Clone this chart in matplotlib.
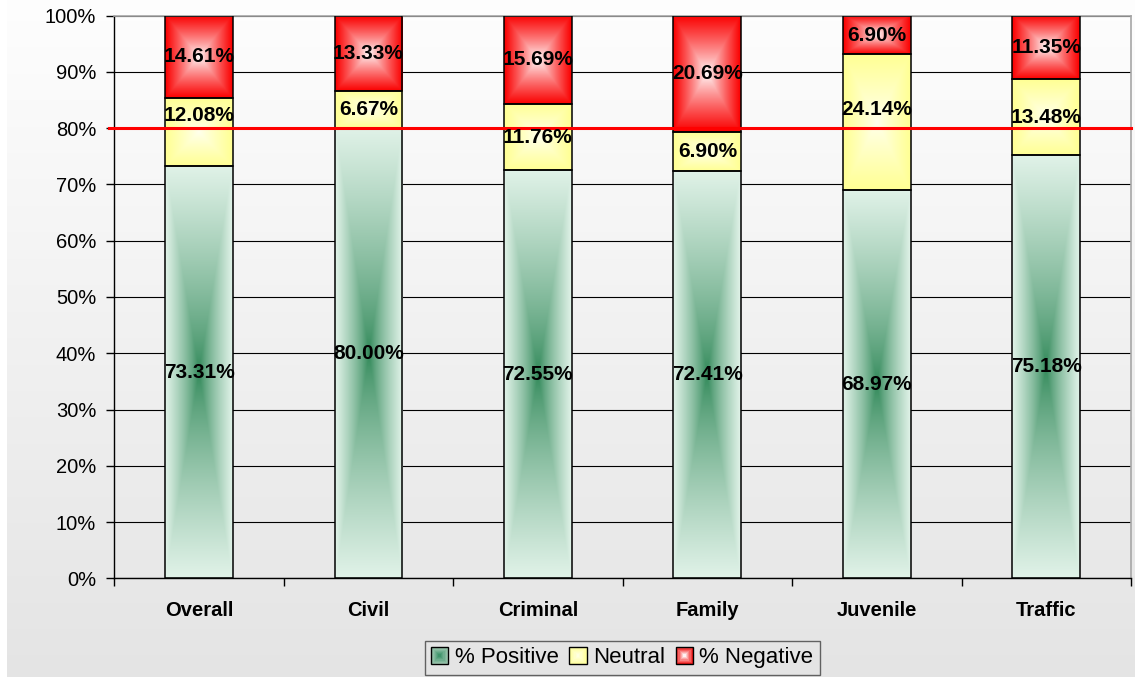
import numpy as np
import matplotlib
matplotlib.use("Agg")
import matplotlib.pyplot as plt
from matplotlib.patches import Rectangle, Patch
from matplotlib.legend_handler import HandlerBase
from matplotlib.ticker import FixedLocator, NullFormatter

# ---- data -------------------------------------------------------------
categories = ["Overall", "Civil", "Criminal", "Family", "Juvenile", "Traffic"]
positive = [73.31, 80.00, 72.55, 72.41, 68.97, 75.18]
neutral = [12.08, 6.67, 11.76, 6.90, 24.14, 13.48]
negative = [14.61, 13.33, 15.69, 20.69, 6.90, 11.35]
target = 80
y_ticks = [0, 10, 20, 30, 40, 50, 60, 70, 80, 90, 100]
series_names = ["% Positive", "Neutral", "% Negative"]

# ---- styling ----------------------------------------------------------
plt.rcParams["font.family"] = ["Liberation Sans", "DejaVu Sans"]

# (center colour, edge colour, exponent) of a rectangular "from centre" fill
fills = {
    "% Positive": ((0.18, 0.53, 0.34), (0.88, 0.95, 0.91), 0.75),
    "Neutral": ((1.00, 1.00, 0.93), (1.00, 1.00, 0.58), 0.9),
    "% Negative": ((1.00, 1.00, 1.00), (0.98, 0.0, 0.0), 0.85),
}
# labels lifted clear of the target line (pixels)
label_nudge = {("Neutral", 0): 16, ("Neutral", 4): 13}

bar_width = 0.4
label_size = 15
tick_size = 14.5


def rect_gradient(center, edge, power, nx=60, ny=240):
    xs = np.linspace(-1, 1, nx)
    ys = np.linspace(-1, 1, ny)
    X, Y = np.meshgrid(xs, ys)
    t = np.maximum(np.abs(X), np.abs(Y)) ** power
    c = np.array(center)
    e = np.array(edge)
    return c * (1 - t)[..., None] + e * t[..., None]


fig = plt.figure(figsize=(11.35, 6.77), dpi=100)
fig.patch.set_facecolor("white")

# chart-wide vertical background shading
bg = fig.add_axes([7 / 1135, 0, 1 - 7 / 1135, 1], zorder=-5)
shade = np.linspace(0.895, 0.995, 256)[:, None]
bg.imshow(np.dstack([shade, shade, shade]), aspect="auto", origin="lower",
          extent=(0, 1, 0, 1))
bg.set_axis_off()

ax = fig.add_axes([114.3 / 1135, 1 - 578.3 / 677,
                   (1131 - 114.3) / 1135, (578.3 - 15.7) / 677])
ax.set_facecolor("none")

x = np.arange(len(categories))
stacks = [positive, neutral, negative]
bottom = np.zeros(len(categories))
for name, vals in zip(series_names, stacks):
    center, edge, power = fills[name]
    img = rect_gradient(center, edge, power)
    for i, v in enumerate(vals):
        x0 = x[i] - bar_width / 2
        x1 = x[i] + bar_width / 2
        y0 = bottom[i]
        y1 = bottom[i] + v
        ax.imshow(img, extent=(x0, x1, y0, y1), aspect="auto", origin="lower",
                  interpolation="bilinear", zorder=2)
        ax.add_patch(Rectangle((x0, y0), bar_width, v, facecolor="none",
                               edgecolor="black", linewidth=1.1, zorder=3))
        nudge = label_nudge.get((name, i), 0)
        ax.annotate(f"{v:.2f}%", xy=(x[i], y0 + v / 2), xytext=(0, nudge),
                    textcoords="offset pixels", ha="center", va="center",
                    fontsize=label_size, fontweight="bold", color="black",
                    zorder=6)
    bottom += np.array(vals)

# target line
ax.plot([-0.5 - 0.03, len(categories) - 0.5], [target, target], color="#ff0000",
        linewidth=2.2, zorder=5, clip_on=False)

ax.set_xlim(-0.5, len(categories) - 0.5)
ax.set_ylim(0, 100)

# y axis
ax.set_yticks(y_ticks)
ax.set_yticklabels([f"{t}%" for t in y_ticks], fontsize=tick_size)
ax.tick_params(axis="y", direction="out", length=6, width=1, pad=7, color="black")
ax.yaxis.grid(True, color="black", linewidth=0.8)
ax.set_axisbelow(True)

# x axis: ticks between categories, labels at the centres
ax.xaxis.set_major_locator(FixedLocator(np.arange(-0.5, len(categories), 1.0)))
ax.xaxis.set_major_formatter(NullFormatter())
ax.xaxis.set_minor_locator(FixedLocator(x))
ax.set_xticklabels(categories, minor=True, fontsize=tick_size, fontweight="bold")
ax.tick_params(axis="x", which="major", direction="out", length=6, width=1,
               color="black")
ax.tick_params(axis="x", which="minor", length=0, pad=16)

for side in ("left", "bottom"):
    ax.spines[side].set_color("black")
    ax.spines[side].set_linewidth(1.0)
for side in ("top", "right"):
    ax.spines[side].set_color("#a6a6a6")
    ax.spines[side].set_linewidth(1.2)


class SquareGradientHandler(HandlerBase):
    def __init__(self, center, edge, steps=7):
        super().__init__()
        self.center = np.array(center)
        self.edge = np.array(edge)
        self.steps = steps

    def create_artists(self, legend, orig_handle, xdescent, ydescent,
                       width, height, fontsize, trans):
        size = height * 1.05
        cx = -xdescent + width / 2
        cy = -ydescent + height / 2
        artists = []
        for k in range(self.steps):
            s = size * (1 - k / self.steps)
            f = k / (self.steps - 1)
            col = self.edge * (1 - f) + self.center * f
            artists.append(Rectangle((cx - s / 2, cy - s / 2), s, s,
                                     facecolor=col, edgecolor="none",
                                     transform=trans))
        artists.append(Rectangle((cx - size / 2, cy - size / 2), size, size,
                                 facecolor="none", edgecolor="black",
                                 linewidth=1.0, transform=trans))
        return artists


legend_edges = {
    "% Positive": ((0.25, 0.58, 0.42), (0.62, 0.78, 0.69)),
    "Neutral": ((1.0, 1.0, 0.88), (1.0, 1.0, 0.62)),
    "% Negative": ((1.0, 0.95, 0.95), (0.95, 0.10, 0.10)),
}
handles = [Patch(label=n) for n in series_names]
hmap = {h: SquareGradientHandler(*legend_edges[h.get_label()]) for h in handles}
leg = fig.legend(handles=handles, handler_map=hmap, loc="center",
                 bbox_to_anchor=(622.4 / 1135, 1 - 657.9 / 677), ncol=3,
                 fontsize=16, frameon=True, fancybox=False,
                 handlelength=0.75, handleheight=0.75, handletextpad=0.3,
                 columnspacing=0.5, borderpad=0.3, borderaxespad=0)
leg.get_frame().set_facecolor("none")
leg.get_frame().set_edgecolor("#404040")
leg.get_frame().set_linewidth(1.0)

fig.savefig("out.png", dpi=100)
